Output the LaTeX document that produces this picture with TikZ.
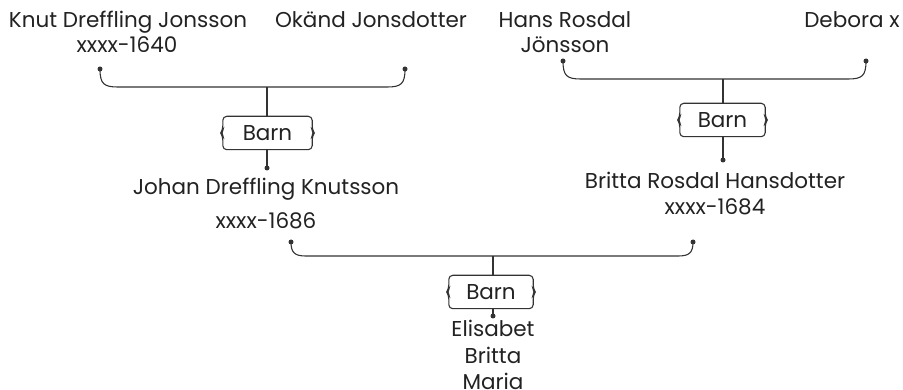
\documentclass[tikz,border=0pt]{standalone}
\usepackage{fontspec}
\setmainfont{Poppins}
\definecolor{ink}{HTML}{222222}
\definecolor{wire}{HTML}{333333}
\tikzset{
  lbl/.style={anchor=base, inner sep=0pt, text=ink, font=\fontsize{21.5}{24}\selectfont},
  barn/.style={inner sep=0pt, minimum width=#1, minimum height=33pt, text=ink, font=\fontsize{21.5}{24}\selectfont},
  wireline/.style={draw=wire, line width=1.1pt},
  dotnode/.style={circle, fill=wire, inner sep=0pt, minimum size=5pt},
}
\newcommand{\bracebox}[1]{%
  \draw[wireline, rounded corners=4pt]
    (#1.north west) -- (#1.north east) -- ([yshift=3pt]#1.east) -- ([xshift=2pt]#1.east) -- ([yshift=-3pt]#1.east) -- (#1.south east)
    -- (#1.south west) -- ([yshift=-3pt]#1.west) -- ([xshift=-2pt]#1.west) -- ([yshift=3pt]#1.west) -- cycle;}
\begin{document}
\begin{tikzpicture}[x=1pt,y=-1pt]
\useasboundingbox (0,0) rectangle (903,390);
% texts
\node[lbl] (knut) at (128,28) {Knut Dreffling Jonsson};
\node[lbl] (knutd) at (127,53) {xxxx-1640};
\node[lbl] (okand) at (371,28) {Okänd Jonsdotter};
\node[lbl] (hans) at (565,28) {Hans Rosdal};
\node[lbl] (hans2) at (565,53) {Jönsson};
\node[lbl] (debora) at (852,28) {Debora x};
\node[lbl] (johan) at (266,195) {Johan Dreffling Knutsson};
\node[lbl] (johand) at (266,229) {xxxx-1686};
\node[lbl] (britta) at (715,189) {Britta Rosdal Hansdotter};
\node[lbl] (brittad) at (715,215) {xxxx-1684};
\node[lbl] (c1) at (493,337) {Elisabet};
\node[lbl] (c2) at (493,363) {Britta};
\node[lbl] (c3) at (493,389) {Maria};
% dots
\node[dotnode] (d1l) at (100,69) {};
\node[dotnode] (d1r) at (405,69) {};
\node[dotnode] (d2l) at (563,61) {};
\node[dotnode] (d2r) at (866,61) {};
\node[dotnode] (d3l) at (291,242) {};
\node[dotnode] (d3r) at (693,242) {};
\node[dotnode] (k1) at (267,168) {};
\node[dotnode] (k2) at (723,160) {};
\node[dotnode] (k3) at (493,316) {};
% barn boxes
\node[barn=89pt] (b1) at (267.5,133) {Barn};
\node[barn=85pt] (b2) at (722.5,120) {Barn};
\node[barn=84pt] (b3) at (491,292) {Barn};
\bracebox{b1}\bracebox{b2}\bracebox{b3}
% brackets
\coordinate (m1) at (267,87);
\coordinate (m2) at (723,79);
\coordinate (m3) at (493,256);
\draw[wireline] (d1l.center) .. controls (100,84) and (104,87) .. (118,87) -- (387,87) .. controls (401,87) and (405,84) .. (d1r.center);
\draw[wireline] (d2l.center) .. controls (563,76) and (567,79) .. (581,79) -- (848,79) .. controls (862,79) and (866,76) .. (d2r.center);
\draw[wireline] (d3l.center) .. controls (291,253) and (295,256) .. (306,256) -- (678,256) .. controls (689,256) and (693,253) .. (d3r.center);
\draw[wireline] (m1) -- (m1 |- b1.north);
\draw[wireline] (m2) -- (m2 |- b2.north);
\draw[wireline] (m3) -- (m3 |- b3.north);
\draw[wireline] (k1 |- b1.south) -- (k1.center);
\draw[wireline] (k2 |- b2.south) -- (k2.center);
\draw[wireline] (k3 |- b3.south) -- (k3.center);
\end{tikzpicture}
\end{document}
